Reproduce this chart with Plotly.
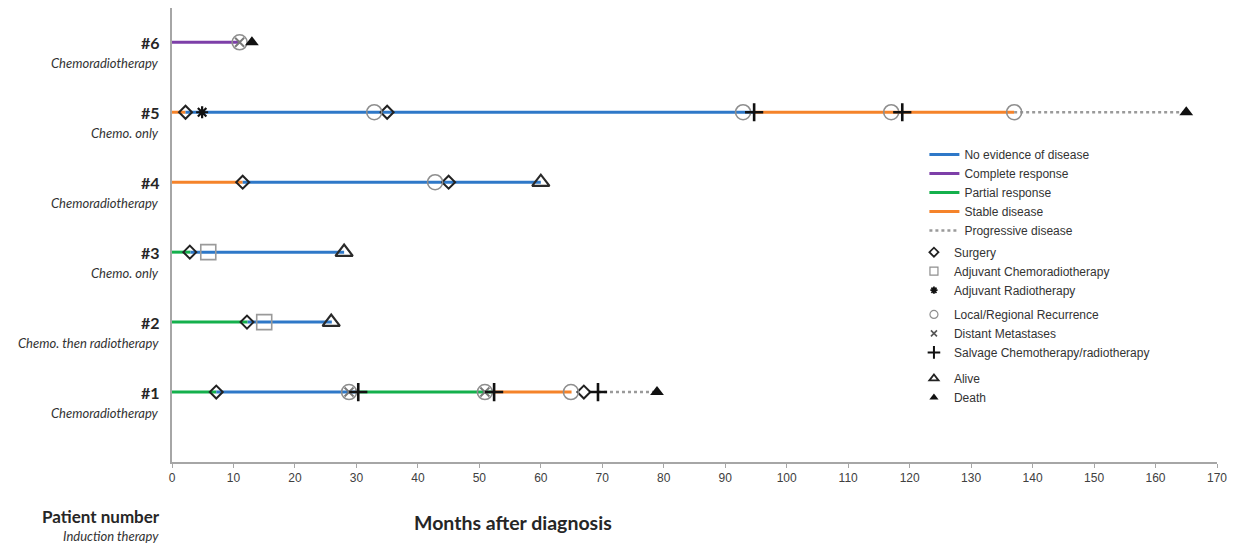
import plotly.graph_objects as go

# ---------------- data ----------------
patients = [1, 2, 3, 4, 5, 6]
patient_labels = ["#1", "#2", "#3", "#4", "#5", "#6"]
induction = ["Chemoradiotherapy", "Chemo. then radiotherapy", "Chemo. only",
             "Chemoradiotherapy", "Chemo. only", "Chemoradiotherapy"]

# disease-state segments
seg_patient = [6, 5, 5, 5, 5, 4, 4, 3, 3, 2, 2, 1, 1, 1, 1, 1]
seg_start = [0, 0, 2.2, 94.7, 137, 0, 11.5, 0, 3, 0, 12.3, 0, 7.2, 30.3, 52.4, 69.3]
seg_end = [11, 2.2, 94.7, 137, 165, 11.5, 60, 3, 28, 12.3, 26, 7.2, 30.3, 52.4, 65, 79]
seg_state = ["CR", "SD", "NED", "SD", "PD", "SD", "NED", "PR", "NED", "PR", "NED",
             "PR", "NED", "PR", "SD", "PD"]

state_order = ["NED", "CR", "PR", "SD", "PD"]
state_names = ["No evidence of disease", "Complete response", "Partial response",
               "Stable disease", "Progressive disease"]

# events
ev_patient = [6, 6, 6,
              5, 5, 5, 5, 5, 5, 5, 5, 5, 5,
              4, 4, 4, 4,
              3, 3, 3,
              2, 2, 2,
              1, 1, 1, 1, 1, 1, 1, 1, 1, 1, 1]
ev_month = [11, 11, 13,
            2.2, 4.9, 32.9, 35, 92.9, 94.7, 117, 118.8, 137, 165,
            11.5, 42.8, 45, 60,
            2.9, 5.9, 28,
            12.2, 15, 25.9,
            7.2, 28.8, 28.8, 30.3, 50.9, 50.9, 52.4, 64.9, 67, 69.3, 78.9]
ev_type = ["LRR", "DM", "Death",
           "Surgery", "AdjRT", "LRR", "Surgery", "LRR", "Salvage", "LRR", "Salvage", "LRR", "Death",
           "Surgery", "LRR", "Surgery", "Alive",
           "Surgery", "AdjCRT", "Alive",
           "Surgery", "AdjCRT", "Alive",
           "Surgery", "LRR", "DM", "Salvage", "LRR", "DM", "Salvage", "LRR", "Surgery", "Salvage", "Death"]

event_order = ["Surgery", "AdjCRT", "AdjRT", "LRR", "DM", "Salvage", "Alive", "Death"]
event_names = ["Surgery", "Adjuvant Chemoradiotherapy", "Adjuvant Radiotherapy",
               "Local/Regional Recurrence", "Distant Metastases",
               "Salvage Chemotherapy/radiotherapy", "Alive", "Death"]

x_ticks = list(range(0, 171, 10))

# ---------------- styles ----------------
state_style = {
    "NED": dict(color="#2E78C8", width=3, dash="solid"),
    "CR": dict(color="#7D3FA8", width=3, dash="solid"),
    "PR": dict(color="#14B04C", width=3, dash="solid"),
    "SD": dict(color="#F5832A", width=3, dash="solid"),
    "PD": dict(color="#9A9A9A", width=2.5, dash="dot"),
}
event_style = {
    "Surgery": dict(symbol="diamond-open", size=10, color="#222222", line=dict(width=2, color="#222222")),
    "AdjCRT": dict(symbol="square-open", size=15, color="#9A9A9A", line=dict(width=1.6, color="#9A9A9A")),
    "AdjRT": dict(symbol="asterisk-open", size=10, color="#111111", line=dict(width=2.2, color="#111111")),
    "LRR": dict(symbol="circle-open", size=15, color="#8E8E8E", line=dict(width=1.6, color="#8E8E8E")),
    "DM": dict(symbol="x-thin-open", size=9, color="#7A7A7A", line=dict(width=2, color="#7A7A7A")),
    "Salvage": dict(symbol="cross-thin-open", size=13, color="#111111", line=dict(width=2.6, color="#111111")),
    "Alive": dict(symbol="triangle-up-open", size=15, color="#2A2A2A", line=dict(width=2.2, color="#2A2A2A")),
    "Death": dict(symbol="triangle-up", size=12, color="#111111", line=dict(width=0, color="#111111")),
}
legend_marker = {
    "Surgery": dict(symbol="diamond-open", size=7, color="#222222", line=dict(width=1.8, color="#222222")),
    "AdjCRT": dict(symbol="square-open", size=8, color="#8E8E8E", line=dict(width=1.2, color="#8E8E8E")),
    "AdjRT": dict(symbol="asterisk-open", size=6, color="#111111", line=dict(width=1.8, color="#111111")),
    "LRR": dict(symbol="circle-open", size=8, color="#8E8E8E", line=dict(width=1.2, color="#8E8E8E")),
    "DM": dict(symbol="x-thin-open", size=6, color="#555555", line=dict(width=1.6, color="#555555")),
    "Salvage": dict(symbol="cross-thin-open", size=9, color="#111111", line=dict(width=2, color="#111111")),
    "Alive": dict(symbol="triangle-up-open", size=8, color="#222222", line=dict(width=1.8, color="#222222")),
    "Death": dict(symbol="triangle-up", size=8, color="#111111", line=dict(width=0, color="#111111")),
}
event_legend = {"Surgery": "legend2", "AdjCRT": "legend2", "AdjRT": "legend2",
                "LRR": "legend3", "DM": "legend3", "Salvage": "legend3",
                "Alive": "legend4", "Death": "legend4"}

fig = go.Figure()

# segments
for p, s, e, st in zip(seg_patient, seg_start, seg_end, seg_state):
    fig.add_trace(go.Scatter(
        x=[s, e], y=[p, p], mode="lines", line=state_style[st],
        name=state_names[state_order.index(st)], showlegend=False, hoverinfo="skip"))

# legend entries for states (in order)
for st, nm in zip(state_order, state_names):
    fig.add_trace(go.Scatter(
        x=[None], y=[None], mode="lines", line=state_style[st], name=nm,
        legend="legend", showlegend=True))

# events
for et, nm in zip(event_order, event_names):
    xs = [m for m, t in zip(ev_month, ev_type) if t == et]
    ys = [p for p, t in zip(ev_patient, ev_type) if t == et]
    fig.add_trace(go.Scatter(
        x=xs, y=ys, mode="markers", marker=event_style[et], name=nm, showlegend=False))
    fig.add_trace(go.Scatter(
        x=[None], y=[None], mode="markers", marker=legend_marker[et], name=nm,
        legend=event_legend[et], showlegend=True))

# patient annotations
for p, lab, ind in zip(patients, patient_labels, induction):
    fig.add_annotation(x=0, y=p, xref="paper", yref="y", text="<b>" + lab + "</b>",
                       xanchor="right", yanchor="middle", xshift=-10, showarrow=False,
                       font=dict(family="Lato", size=16, color="#262626"))
    fig.add_annotation(x=0, y=p, xref="paper", yref="y", text="<i>" + ind + "</i>",
                       xanchor="right", yanchor="middle", xshift=-11, yshift=-21, showarrow=False,
                       font=dict(family="Lato", size=13, color="#333333"))

fig.add_annotation(x=0, y=0, xref="paper", yref="paper", text="<b>Patient number</b>",
                   xanchor="right", yanchor="middle", xshift=-10, yshift=-54, showarrow=False,
                   font=dict(family="Lato", size=17, color="#262626"))
fig.add_annotation(x=0, y=0, xref="paper", yref="paper", text="<i>Induction therapy</i>",
                   xanchor="right", yanchor="middle", xshift=-11, yshift=-74, showarrow=False,
                   font=dict(family="Lato", size=13, color="#333333"))
fig.add_annotation(x=0.326, y=0, xref="paper", yref="paper", text="<b>Months after diagnosis</b>",
                   xanchor="center", yanchor="middle", yshift=-60, showarrow=False,
                   font=dict(family="Lato", size=19.5, color="#262626"))

legend_common = dict(font=dict(family="Liberation Sans, Arial", size=12, color="#333333"),
                     bgcolor="rgba(0,0,0,0)", xanchor="left", yanchor="top",
                     itemclick=False, itemdoubleclick=False, tracegroupgap=0)

# page body has an 8px margin, so the figure is sized/margined to land on the same pixels
fig.update_layout(
    width=1231, height=538,
    margin=dict(l=164, r=22, t=0, b=84),
    plot_bgcolor="white", paper_bgcolor="white",
    xaxis=dict(range=[0, 170], tickvals=x_ticks, ticktext=[str(v) for v in x_ticks],
               showgrid=False, zeroline=False, showline=True, linecolor="#A6A6A6", linewidth=1.5,
               ticks="outside", ticklen=4, tickcolor="#A6A6A6",
               tickfont=dict(family="Liberation Sans, Arial", size=12, color="#404040")),
    yaxis=dict(range=[0, 6.49], showgrid=False, zeroline=False, showline=True,
               linecolor="#A6A6A6", linewidth=1.5, showticklabels=False, ticks=""),
    legend=dict(x=0.72, y=0.709, **legend_common),
    legend2=dict(x=0.71, y=0.494, **legend_common),
    legend3=dict(x=0.71, y=0.357, **legend_common),
    legend4=dict(x=0.71, y=0.216, **legend_common),
    showlegend=True,
)

fig.write_html("out.html")
